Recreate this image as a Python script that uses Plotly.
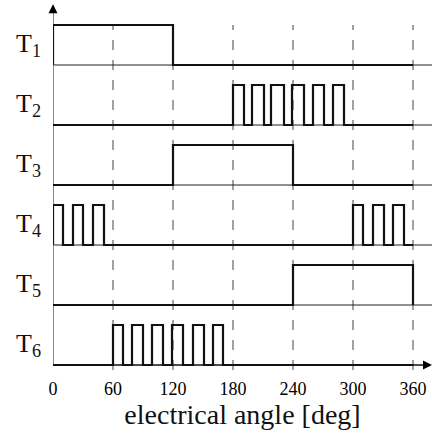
import plotly.graph_objects as go

# ---------------- data ----------------
labels = ["T<sub>1</sub>", "T<sub>2</sub>", "T<sub>3</sub>", "T<sub>4</sub>", "T<sub>5</sub>", "T<sub>6</sub>"]
# on-intervals (start, end) in electrical degrees for each switch
t1_starts, t1_ends = [0], [120]
t2_starts, t2_ends = [180, 199, 218, 239, 260, 280], [191, 211, 231, 251, 271, 291]
t3_starts, t3_ends = [120], [240]
t4_starts, t4_ends = [0, 20, 40, 300, 320, 340], [10, 30, 51, 310, 331, 351]
t5_starts, t5_ends = [240], [360]
t6_starts, t6_ends = [60, 79, 99, 119, 140, 160], [70, 90, 110, 130, 151, 170]
tick_vals = [0, 60, 120, 180, 240, 300, 360]
x_title = "electrical angle [deg]"

rows = [(t1_starts, t1_ends), (t2_starts, t2_ends), (t3_starts, t3_ends),
        (t4_starts, t4_ends), (t5_starts, t5_ends), (t6_starts, t6_ends)]

ROW_GAP = 1.5
PULSE = 1.0
X_MAX = 360
X_RIGHT = 379
FONT = "Liberation Serif"

fig = go.Figure()

n = len(rows)
# dashed vertical guide lines
gx, gy = [], []
for v in tick_vals[1:]:
    gx += [v, v, None]
    gy += [-0.125, (n - 1) * ROW_GAP + PULSE, None]
fig.add_trace(go.Scatter(x=gx, y=gy, mode="lines",
                         line=dict(color="#8a8a8a", width=1.6, dash="10px,10px"),
                         hoverinfo="skip", showlegend=False, cliponaxis=False))

# thin baselines
for i in range(n - 1):
    base = (n - 1 - i) * ROW_GAP
    fig.add_trace(go.Scatter(x=[0, X_RIGHT], y=[base, base], mode="lines",
                             line=dict(color="#222", width=1), hoverinfo="skip",
                             showlegend=False))

# vertical axis with arrow
fig.add_trace(go.Scatter(x=[0, 0], y=[0, (n - 1) * ROW_GAP + 1.5], mode="lines",
                         line=dict(color="#8a8a8a", width=2), hoverinfo="skip",
                         showlegend=False, cliponaxis=False))
fig.add_trace(go.Scatter(x=[0], y=[(n - 1) * ROW_GAP + 1.52], mode="markers",
                         marker=dict(symbol="arrow-up", size=9, color="black"),
                         hoverinfo="skip", showlegend=False, cliponaxis=False))

# horizontal axis with arrow
fig.add_trace(go.Scatter(x=[0, X_RIGHT - 4], y=[0, 0], mode="lines",
                         line=dict(color="#111", width=1.6), hoverinfo="skip",
                         showlegend=False, cliponaxis=False))
fig.add_trace(go.Scatter(x=[X_RIGHT], y=[0], mode="markers",
                         marker=dict(symbol="arrow-right", size=9, color="black"),
                         hoverinfo="skip", showlegend=False, cliponaxis=False))

# switching signals
for i, (starts, ends) in enumerate(rows):
    base = (n - 1 - i) * ROW_GAP
    xs, ys = [0], [base]
    for s, e in zip(starts, ends):
        xs += [s, s, e, e]
        ys += [base, base + PULSE, base + PULSE, base]
    xs.append(X_MAX)
    ys.append(base)
    fig.add_trace(go.Scatter(x=xs, y=ys, mode="lines",
                             line=dict(color="#111", width=2.2), hoverinfo="skip",
                             showlegend=False, cliponaxis=False))
    fig.add_annotation(x=-0.026, xref="paper", y=base + PULSE / 2, yref="y",
                       text=labels[i], showarrow=False, xanchor="right", yanchor="middle",
                       font=dict(family=FONT, size=26, color="#111"))

fig.update_layout(
    width=432, height=435,
    margin=dict(l=53, r=0, t=0, b=63, autoexpand=False),
    paper_bgcolor="white", plot_bgcolor="white",
    xaxis=dict(range=[0, X_RIGHT], tickvals=tick_vals, showgrid=False, zeroline=False,
               showline=False, ticks="", ticklabelstandoff=4, automargin=False,
               tickfont=dict(family=FONT, size=18, color="#000"),
               title=dict(text=x_title, font=dict(family=FONT, size=28, color="#111"), standoff=3)),
    yaxis=dict(range=[-0.175, 9.125], showgrid=False, zeroline=False, showline=False,
               showticklabels=False, ticks="", automargin=False),
)

fig.write_html("out.html", config={"displayModeBar": False, "staticPlot": True},
               post_script="document.body.style.margin='0';")
